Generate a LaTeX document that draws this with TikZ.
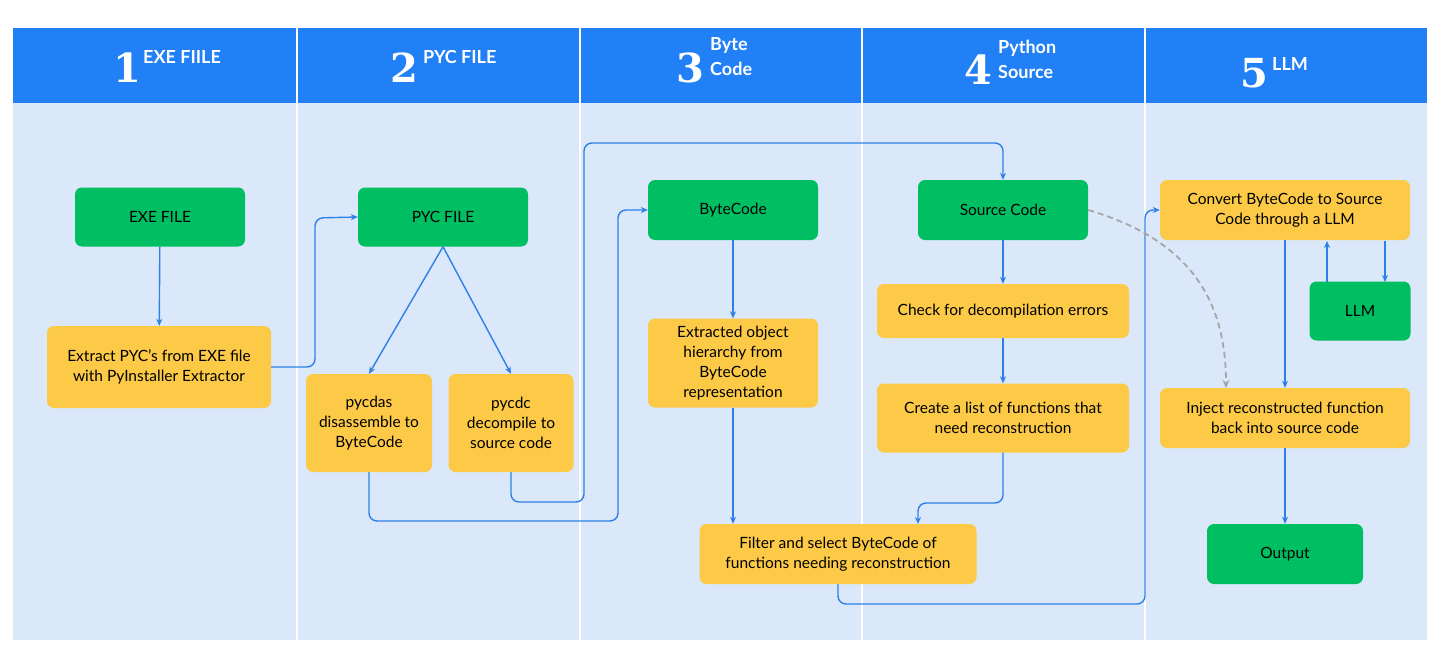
\documentclass[tikz,border=0pt]{standalone}
\usepackage{fontspec}
\setmainfont{Lato}
\newfontfamily\digitfont{DejaVu Serif}
\usetikzlibrary{arrows.meta, positioning}
\definecolor{hdrblue}{HTML}{2180F5}
\definecolor{bodyblue}{HTML}{DAE8FA}
\definecolor{boxgreen}{HTML}{00BF63}
\definecolor{boxyellow}{HTML}{FCCA46}
\definecolor{flowblue}{HTML}{2F7FE8}
\tikzset{
  stage box/.style={rounded corners=7pt, align=center, inner sep=2pt, font=\fontsize{15.5}{20}\selectfont},
  green box/.style={stage box, fill=boxgreen},
  yellow box/.style={stage box, fill=boxyellow},
  flow/.style={draw=flowblue, line width=1.4pt, rounded corners=8pt, -{Stealth[length=7pt,width=6pt]}},
  big digit/.style={text=white, font=\digitfont\bfseries\fontsize{40}{40}\selectfont, inner sep=0pt},
  col label/.style={text=white, font=\bfseries\fontsize{18}{25}\selectfont, align=left, inner sep=0pt, anchor=west}
}
\begin{document}
\begin{tikzpicture}[x=1pt, y=-1pt]
  \useasboundingbox (0,0) rectangle (1442,666);
  % Lanes
  \fill[bodyblue] (13,103) rectangle (1427,640);
  \fill[hdrblue] (13,28) rectangle (1427,103);
  \foreach \xl in {297,580,862,1145}
    \draw[white, line width=1.5pt] (\xl,28) -- (\xl,640);

  % Headers
  \node[big digit] (n1) at (127,68) {1};
  \node[col label] (h1) at (143,57) {EXE FIILE};
  \node[big digit] (n2) at (404,68) {2};
  \node[col label] (h2) at (423,57) {PYC FILE};
  \node[big digit] (n3) at (690,68) {3};
  \node[col label] (h3) at (710,57) {Byte\\Code};
  \node[big digit] (n4) at (978,70) {4};
  \node[col label] (h4) at (998,59) {Python\\Source};
  \node[big digit] (n5) at (1254,73) {5};
  \node[col label] (h5) at (1272,64) {LLM};

  % Steps
  \node[green box, minimum width=170, minimum height=59] (exe) at (160,217) {EXE FILE};
  \node[yellow box, minimum width=224, minimum height=82] (extract) at (159,367) {Extract PYC's from EXE file\\with PyInstaller Extractor};
  \node[green box, minimum width=170, minimum height=59] (pyc) at (443,217) {PYC FILE};
  \node[yellow box, minimum width=126, minimum height=98] (pycdas) at (369,423) {pycdas\\disassemble to\\ByteCode};
  \node[yellow box, minimum width=125, minimum height=98] (pycdc) at (511,423) {pycdc\\decompile to\\source code};
  \node[green box, minimum width=170, minimum height=60] (bytecode) at (733,210) {ByteCode};
  \node[yellow box, minimum width=170, minimum height=89] (hier) at (733,363) {Extracted object\\hierarchy from\\ByteCode\\representation};
  \node[yellow box, minimum width=277, minimum height=60] (filter) at (838,554) {Filter and select ByteCode of\\functions needing reconstruction};
  \node[green box, minimum width=170, minimum height=60] (source) at (1003,210) {Source Code};
  \node[yellow box, minimum width=252, minimum height=54] (check) at (1003,311) {Check for decompilation errors};
  \node[yellow box, minimum width=252, minimum height=69] (create) at (1003,418) {Create a list of functions that\\need reconstruction};
  \node[yellow box, minimum width=250, minimum height=60] (convert) at (1285,210) {Convert ByteCode to Source\\Code through a LLM};
  \node[green box, minimum width=101, minimum height=59] (llm) at (1360,311) {LLM};
  \node[yellow box, minimum width=250, minimum height=60] (inject) at (1285,418) {Inject reconstructed function\\back into source code};
  \node[green box, minimum width=156, minimum height=60] (output) at (1285,554) {Output};

  % Connectors
  \draw[flow] (exe) -- (extract);
  \draw[flow] (extract.east) -| (315,218) -- (pyc.west);
  \draw[flow, rounded corners=0pt] (pyc.south) -- (pycdas.north);
  \draw[flow, rounded corners=0pt] (pyc.south) -- (pycdc.north);
  \draw[flow] (pycdc.south) |- (584,502) |- (1003,143) -- (source.north);
  \draw[flow] (pycdas.south) |- (618,521) |- (bytecode.west);
  \draw[flow] (bytecode) -- (hier);
  \draw[flow] (hier.south) -- (hier.south |- filter.north);
  \draw[flow] (source) -- (check);
  \draw[flow] (check) -- (create);
  \draw[flow] (create.south) |- (918,503) -- (918,524);
  \draw[flow] (filter.south) |- (1145,604) |- (convert.west);
  \draw[flow] (convert) -- (inject);
  \draw[flow] (1327,282) -- (1327,241);
  \draw[flow] (1385,241) -- (1385,282);
  \draw[draw=gray!70, line width=1.8pt, dash pattern=on 6pt off 4pt, -{Stealth[length=8pt,width=7pt]}] (source.east) .. controls (1190,240) and (1226,300) .. (1226,388);
  \draw[flow] (inject) -- (output);
\end{tikzpicture}
\end{document}
